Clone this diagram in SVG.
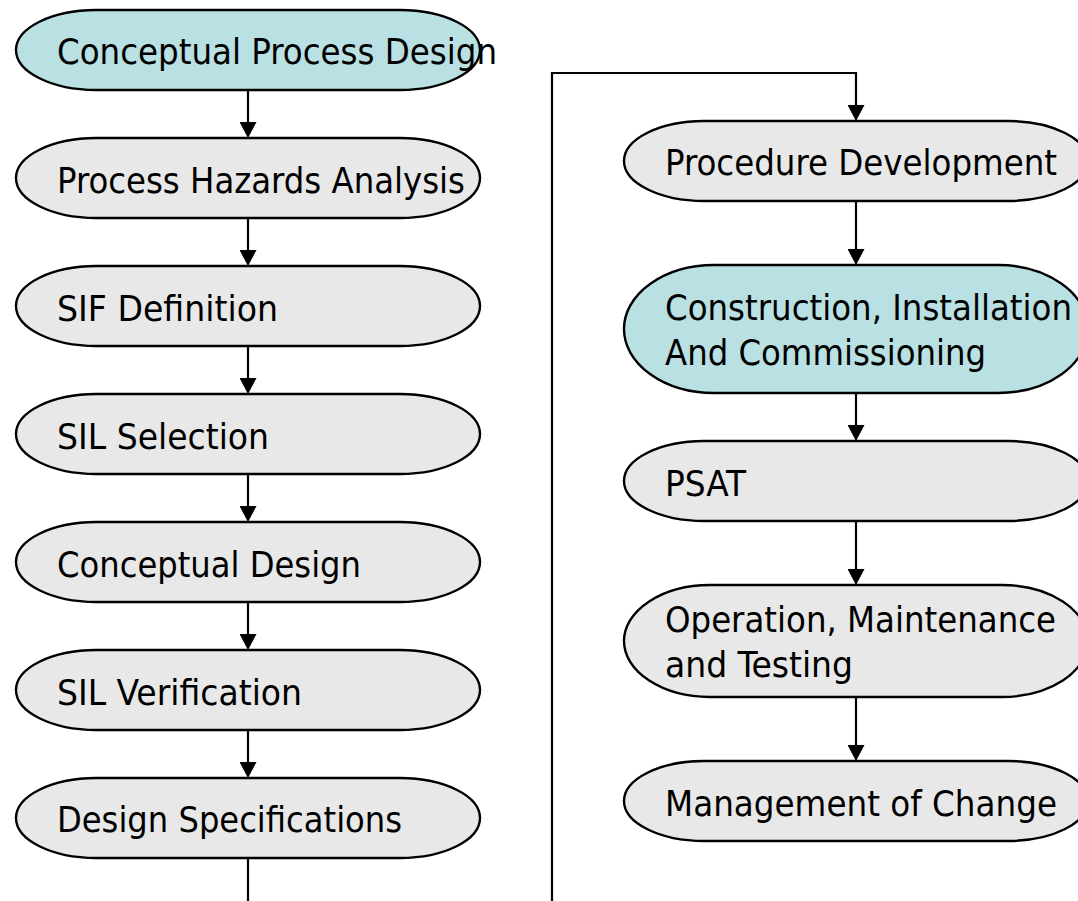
<svg xmlns="http://www.w3.org/2000/svg" width="1078" height="901" viewBox="0 0 1078 901">
  <style>
    .box { stroke: #000; stroke-width: 2.4; }
    .grey { fill: #e8e8e8; }
    .teal { fill: #b9e0e3; }
    .lbl { font-family: "DejaVu Sans Condensed", "DejaVu Sans", sans-serif; font-size: 36px; fill: #000; }
    .wire { fill: none; stroke: #000; stroke-width: 2.2; }
  </style>
  <defs>
    <marker id="head" markerUnits="userSpaceOnUse" markerWidth="17" markerHeight="17" refX="5" refY="8.5" orient="auto" viewBox="0 0 17 17">
      <path d="M0,0 L16,8.5 L0,17 z" fill="#000"/>
    </marker>
  </defs>
  <rect width="1078" height="901" fill="#fff"/>

  <!-- connectors -->
  <g id="connectors">
    <path class="wire" d="M248,89 V127" marker-end="url(#head)"/>
    <path class="wire" d="M248,217 V255" marker-end="url(#head)"/>
    <path class="wire" d="M248,345 V383" marker-end="url(#head)"/>
    <path class="wire" d="M248,473 V511" marker-end="url(#head)"/>
    <path class="wire" d="M248,601 V639" marker-end="url(#head)"/>
    <path class="wire" d="M248,729 V767" marker-end="url(#head)"/>
    <path class="wire" d="M248,857 V901"/>
    <path class="wire" d="M552,901 V73 H856 V110" marker-end="url(#head)"/>
    <path class="wire" d="M856,201 V254" marker-end="url(#head)"/>
    <path class="wire" d="M856,393 V430" marker-end="url(#head)"/>
    <path class="wire" d="M856,521 V574" marker-end="url(#head)"/>
    <path class="wire" d="M856,697 V750" marker-end="url(#head)"/>
  </g>

  <!-- left column -->
  <g id="conceptual-process-design">
    <rect class="box teal" x="16" y="10" width="464" height="80" rx="80" ry="40"/>
    <text class="lbl" x="57" y="64" textLength="440" lengthAdjust="spacingAndGlyphs">Conceptual Process Design</text>
  </g>
  <g id="process-hazards-analysis">
    <rect class="box grey" x="16" y="138" width="464" height="80" rx="80" ry="40"/>
    <text class="lbl" x="57" y="192.5" textLength="408" lengthAdjust="spacingAndGlyphs">Process Hazards Analysis</text>
  </g>
  <g id="sif-definition">
    <rect class="box grey" x="16" y="266" width="464" height="80" rx="80" ry="40"/>
    <text class="lbl" x="57" y="320.5" textLength="221" lengthAdjust="spacingAndGlyphs">SIF Definition</text>
  </g>
  <g id="sil-selection">
    <rect class="box grey" x="16" y="394" width="464" height="80" rx="80" ry="40"/>
    <text class="lbl" x="57" y="448.5" textLength="212" lengthAdjust="spacingAndGlyphs">SIL Selection</text>
  </g>
  <g id="conceptual-design">
    <rect class="box grey" x="16" y="522" width="464" height="80" rx="80" ry="40"/>
    <text class="lbl" x="57" y="576.5" textLength="304" lengthAdjust="spacingAndGlyphs">Conceptual Design</text>
  </g>
  <g id="sil-verification">
    <rect class="box grey" x="16" y="650" width="464" height="80" rx="80" ry="40"/>
    <text class="lbl" x="57" y="704.5" textLength="245" lengthAdjust="spacingAndGlyphs">SIL Verification</text>
  </g>
  <g id="design-specifications">
    <rect class="box grey" x="16" y="778" width="464" height="80" rx="80" ry="40"/>
    <text class="lbl" x="57" y="832" textLength="345" lengthAdjust="spacingAndGlyphs">Design Specifications</text>
  </g>

  <!-- right column -->
  <g id="procedure-development">
    <rect class="box grey" x="624" y="121" width="464" height="80" rx="80" ry="40"/>
    <text class="lbl" x="665" y="175" textLength="392" lengthAdjust="spacingAndGlyphs">Procedure Development</text>
  </g>
  <g id="construction-installation">
    <rect class="box teal" x="624" y="265" width="464" height="128" rx="90" ry="64"/>
    <text class="lbl" x="665" y="320" textLength="407" lengthAdjust="spacingAndGlyphs">Construction, Installation</text>
    <text class="lbl" x="665" y="365" textLength="321" lengthAdjust="spacingAndGlyphs">And Commissioning</text>
  </g>
  <g id="psat">
    <rect class="box grey" x="624" y="441" width="464" height="80" rx="80" ry="40"/>
    <text class="lbl" x="665" y="496" textLength="81" lengthAdjust="spacingAndGlyphs">PSAT</text>
  </g>
  <g id="operation-maintenance">
    <rect class="box grey" x="624" y="585" width="464" height="112" rx="86" ry="56"/>
    <text class="lbl" x="665" y="632" textLength="391" lengthAdjust="spacingAndGlyphs">Operation, Maintenance</text>
    <text class="lbl" x="665" y="677" textLength="188" lengthAdjust="spacingAndGlyphs">and Testing</text>
  </g>
  <g id="management-of-change">
    <rect class="box grey" x="624" y="761" width="464" height="80" rx="80" ry="40"/>
    <text class="lbl" x="665" y="816" textLength="392" lengthAdjust="spacingAndGlyphs">Management of Change</text>
  </g>
</svg>
